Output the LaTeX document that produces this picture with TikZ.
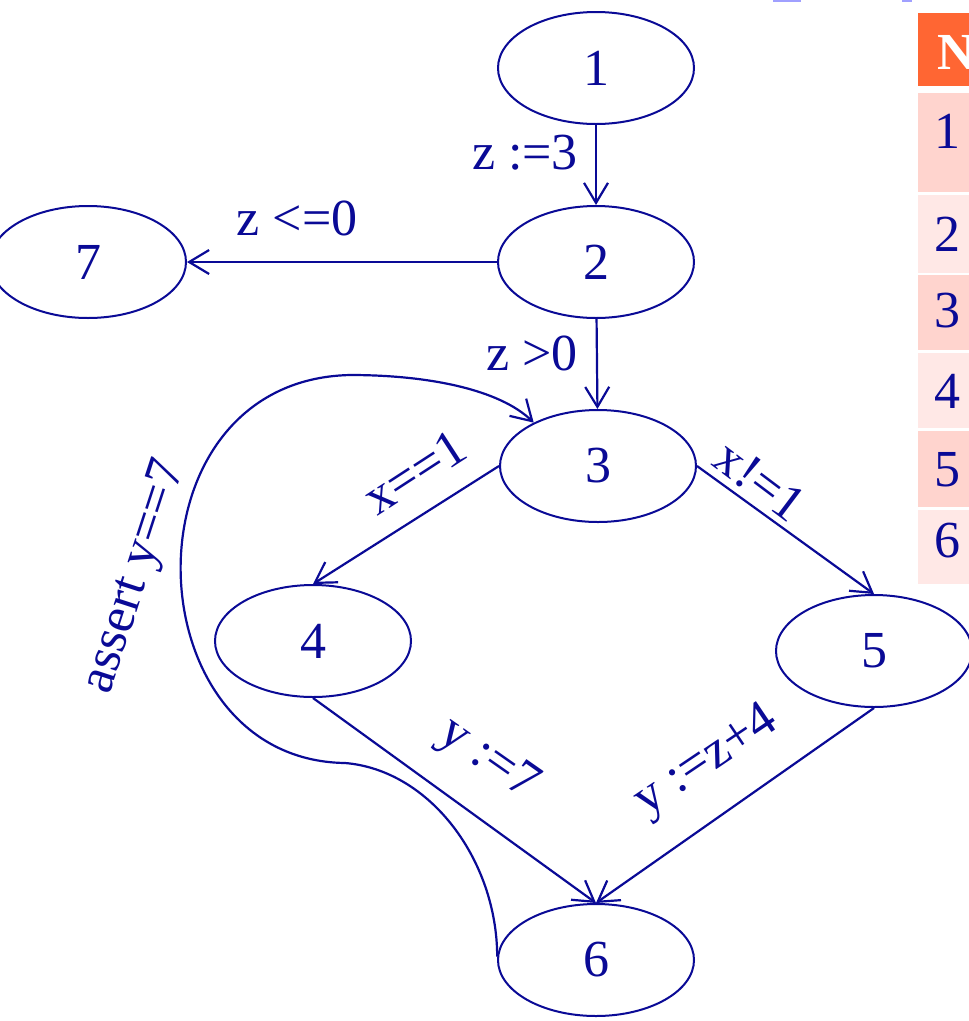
\documentclass[tikz,border=0pt]{standalone}
\usepackage{fontspec}
\setmainfont{Liberation Serif}
\usetikzlibrary{arrows.meta,shapes.geometric}
\definecolor{navy}{RGB}{10,10,150}
\definecolor{hdrorange}{RGB}{255,102,51}
\definecolor{pinkA}{RGB}{255,212,206}
\definecolor{pinkB}{RGB}{255,232,230}
\definecolor{faintblue}{RGB}{160,160,255}
\begin{document}
\begin{tikzpicture}[x=1pt,y=-1pt,
  stnode/.style={ellipse,draw=navy,line width=2pt,minimum width=196pt,minimum height=112pt,inner sep=0pt,text=navy,font=\fontsize{52}{60}\selectfont},
  lab/.style={text=navy,font=\fontsize{52}{60}\selectfont,inner sep=0pt},
  cell/.style={text=navy,font=\fontsize{52}{60}\selectfont,inner sep=0pt},
  conn/.style={draw=navy,line width=2.2pt,-{Straight Barb[length=20pt,width=24pt,line width=2.2pt]}}
]
\useasboundingbox (0,0) rectangle (969,1021);
\clip (0,0) rectangle (969,1021);
\fill[white] (0,0) rectangle (969,1021);
% faint fragments at top
\fill[faintblue] (773,0) rectangle (801,2);
\fill[faintblue] (902,0) rectangle (912,2);
% table
\fill[hdrorange] (918,13) rectangle (990,86);
\fill[pinkA] (918,93) rectangle (990,192);
\fill[pinkB] (918,195) rectangle (990,273);
\fill[pinkA] (918,275) rectangle (990,350);
\fill[pinkB] (918,353) rectangle (990,428);
\fill[pinkA] (918,431) rectangle (990,507);
\fill[pinkB] (918,510) rectangle (990,584);
\node[cell,text=white,font=\fontsize{52}{60}\selectfont\bfseries] (hN) at (956,52) {N};
\node[cell] (r1) at (947,131) {1};
\node[cell] (r2) at (947,234) {2};
\node[cell] (r3) at (947,311) {3};
\node[cell] (r4) at (947,391) {4};
\node[cell] (r5) at (947,470) {5};
\node[cell] (r6) at (947,541) {6};
% states
\node[stnode] (n1) at (596,68) {1};
\node[stnode] (n2) at (596,262) {2};
\node[stnode] (n3) at (598,466) {3};
\node[stnode] (n4) at (313,641) {4};
\node[stnode] (n5) at (874,651) {5};
\node[stnode] (n6) at (596,960) {6};
\node[stnode] (n7) at (88,262) {7};
% connectors
\draw[conn] (n1) -- (n2);
\draw[conn] (n2.west) -- (n7.east);
\draw[conn] (n2) -- (n3);
\draw[conn] (n3.west) -- (n4.north);
\draw[conn] (n3.east) -- (n5.north);
\draw[conn] (n4.south) -- (n6.north);
\draw[conn] (n5.south) -- (n6.north);
\draw[conn] (n6.178) .. controls (497,860) and (430,770) .. (345,763)
  .. controls (130,760) and (120,380) .. (350,375)
  .. controls (430,375) and (500,390) .. (n3.146);
% labels
\node[lab] (l12) at (525,153) {z :=3};
\node[lab] (l27) at (297,218) {z <=0};
\node[lab] (l23) at (532,353) {z >0};
\node[lab,rotate=33] (l34) at (415,472) {x==1};
\node[lab,rotate=-37] (l35) at (760,481) {x!=1};
\node[lab,rotate=-35] (l46) at (488,760) {y :=7};
\node[lab,rotate=34] (l56) at (707,762) {y :=z+4};
\node[lab,rotate=72] (l63) at (136,577) {assert y==7};
\end{tikzpicture}
\end{document}
